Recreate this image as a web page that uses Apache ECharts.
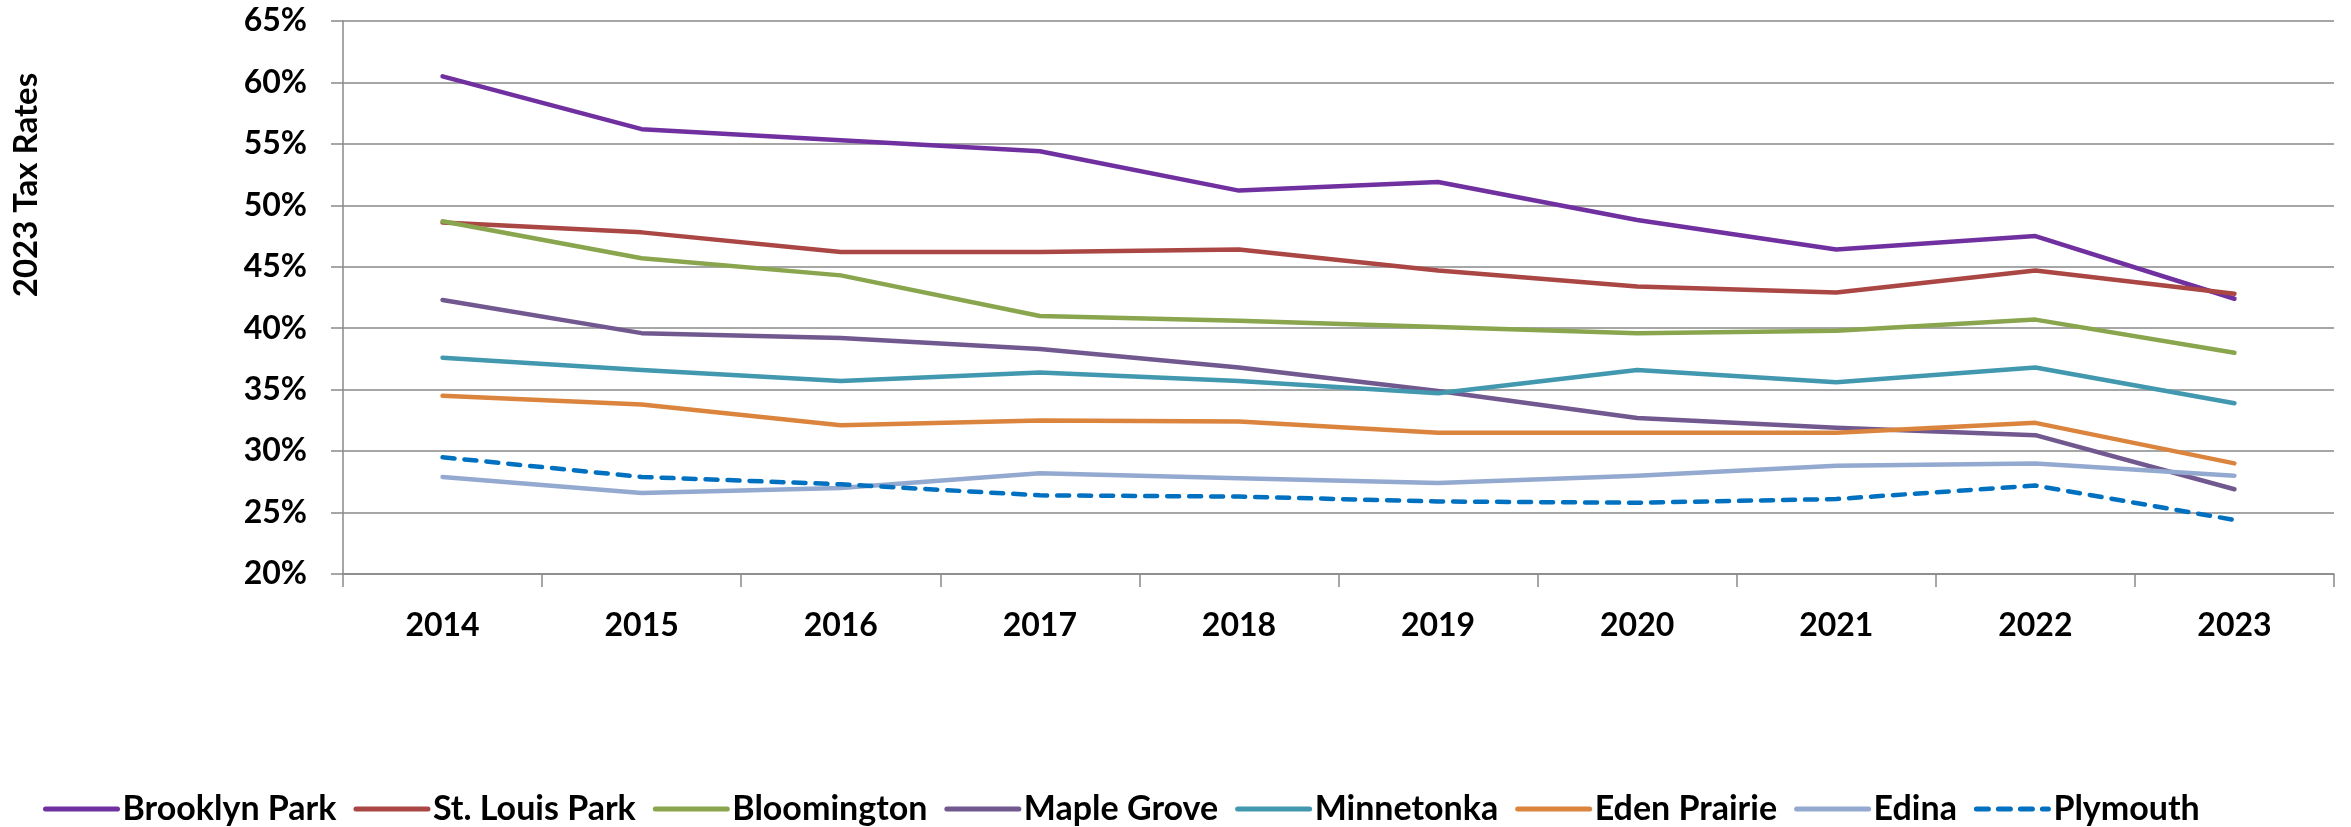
<!DOCTYPE html>
<html>
<head>
<meta charset="utf-8">
<script src="https://cdn.jsdelivr.net/npm/echarts@6/dist/echarts.min.js"></script>
<style>
  html, body { margin: 0; padding: 0; background: #fff; }
  #chart { width: 2351px; height: 827px; }
</style>
</head>
<body>
<div id="chart"></div>
<script>
// years on the x axis
const years = ['2014', '2015', '2016', '2017', '2018', '2019', '2020', '2021', '2022', '2023'];

// tax rates in percent
const brooklynPark = [60.5, 56.2, 55.3, 54.4, 51.2, 51.9, 48.8, 46.4, 47.5, 42.4];
const stLouisPark  = [48.6, 47.8, 46.2, 46.2, 46.4, 44.7, 43.4, 42.9, 44.7, 42.8];
const bloomington  = [48.7, 45.7, 44.3, 41.0, 40.6, 40.1, 39.6, 39.8, 40.7, 38.0];
const mapleGrove   = [42.3, 39.6, 39.2, 38.3, 36.8, 34.9, 32.7, 31.9, 31.3, 26.9];
const minnetonka   = [37.6, 36.6, 35.7, 36.4, 35.7, 34.7, 36.6, 35.6, 36.8, 33.9];
const edenPrairie  = [34.5, 33.8, 32.1, 32.5, 32.4, 31.5, 31.5, 31.5, 32.3, 29.0];
const edina        = [27.9, 26.6, 27.0, 28.2, 27.8, 27.4, 28.0, 28.8, 29.0, 28.0];
const plymouth     = [29.5, 27.9, 27.3, 26.4, 26.3, 25.9, 25.8, 26.1, 27.2, 24.4];

const FONT = 'Lato, "Open Sans", sans-serif';
const GRID_GREY = '#898989';

// series: name, data, colour, dashed?
const cities = [
  ['Brooklyn Park', brooklynPark, '#7030A0', false],
  ['St. Louis Park', stLouisPark, '#AA4643', false],
  ['Bloomington', bloomington, '#89A54E', false],
  ['Maple Grove', mapleGrove, '#71588F', false],
  ['Minnetonka', minnetonka, '#4198AF', false],
  ['Eden Prairie', edenPrairie, '#DB843D', false],
  ['Edina', edina, '#93A9CF', false],
  ['Plymouth', plymouth, '#0070C0', true]
];

let series = cities.map(c => ({
  name: c[0],
  type: 'line',
  data: c[1],
  showSymbol: false,
  symbol: 'none',
  animation: false,
  lineStyle: {
    color: c[2],
    width: 4.5,
    type: c[3] ? [12, 10] : 'solid',
    cap: 'round',
    join: 'round'
  },
  itemStyle: { color: c[2] }
}));

let chart = echarts.init(document.getElementById('chart'));
chart.setOption({
  backgroundColor: '#fff',
  animation: false,
  grid: { left: 343, right: 17, top: 21, bottom: 253, containLabel: false },
  xAxis: {
    type: 'category',
    data: years,
    boundaryGap: true,
    axisLine: { lineStyle: { color: GRID_GREY, width: 1.5 } },
    axisTick: { show: true, length: 13, lineStyle: { color: GRID_GREY, width: 1.5 } },
    axisLabel: { margin: 36, color: '#000', fontFamily: FONT, fontWeight: 'bold', fontSize: 32 },
    splitLine: { show: false }
  },
  yAxis: {
    type: 'value',
    min: 20,
    max: 65,
    interval: 5,
    axisLine: { show: true, lineStyle: { color: GRID_GREY, width: 1.5 } },
    axisTick: { show: true, length: 12, lineStyle: { color: GRID_GREY, width: 1.5 } },
    axisLabel: {
      margin: 36,
      color: '#000',
      fontFamily: FONT,
      fontWeight: 'bold',
      fontSize: 32,
      formatter: v => v + '%'
    },
    splitLine: { show: true, lineStyle: { color: GRID_GREY, width: 1.5 } }
  },
  legend: {
    left: 38,
    top: 787,
    itemWidth: 72,
    itemHeight: 14,
    itemGap: 17,
    lineStyle: { width: 5, cap: 'round' },
    itemStyle: { color: 'rgba(0,0,0,0)', borderWidth: 0, opacity: 0 },
    textStyle: { color: '#000', fontFamily: FONT, fontWeight: 'bold', fontSize: 34 },
    data: cities.map(c => c[0])
  },
  graphic: [{
    type: 'text',
    x: 26,
    y: 185,
    rotation: Math.PI / 2,
    style: {
      text: '2023 Tax Rates',
      fill: '#000',
      font: 'bold 33px ' + FONT,
      align: 'center',
      verticalAlign: 'middle'
    }
  }],
  series: series
});
</script>
</body>
</html>
